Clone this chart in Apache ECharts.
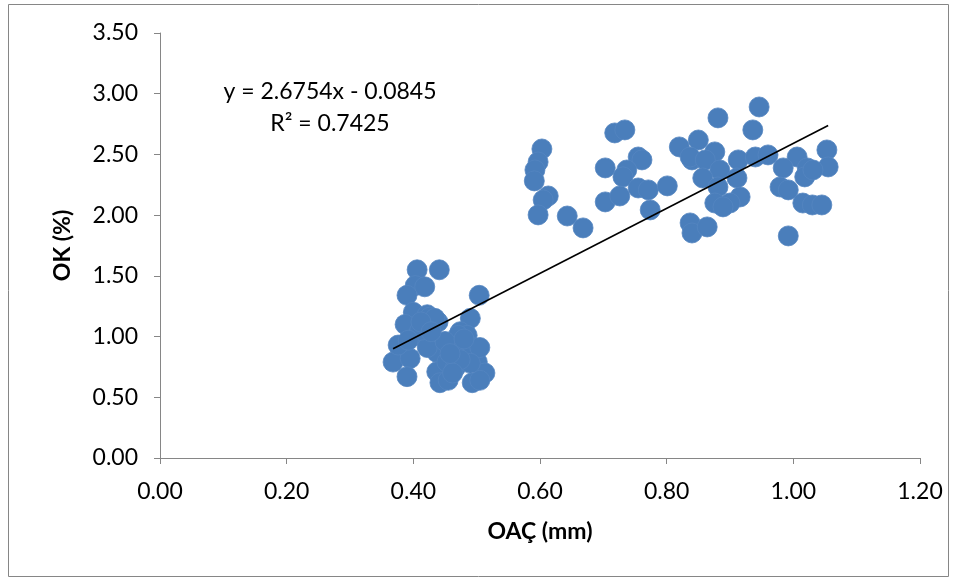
<!DOCTYPE html>
<html>
<head>
<meta charset="utf-8">
<title>OK vs OAÇ</title>
<script src="https://cdn.jsdelivr.net/npm/echarts@6/dist/echarts.min.js"></script>
<style>
  html, body { margin: 0; padding: 0; background: #ffffff; }
  #chart { width: 958px; height: 581px; }
</style>
</head>
<body>
<div id="chart"></div>
<script>
// OAÇ (mm) measurements
const oacValues = [
  0.406, 0.441, 0.403, 0.418, 0.390, 0.504, 0.400, 0.422, 0.439, 0.387,
  0.490, 0.474, 0.485, 0.406, 0.379, 0.368, 0.395, 0.390, 0.437, 0.437,
  0.442, 0.453, 0.474, 0.494, 0.501, 0.513, 0.493, 0.466, 0.422, 0.426,
  0.471, 0.505, 0.463, 0.455, 0.505, 0.490, 0.474, 0.410, 0.376, 0.434,
  0.450, 0.480, 0.412, 0.462, 0.392, 0.428, 0.458,
  0.603, 0.597, 0.592, 0.591, 0.613, 0.605, 0.597, 0.643, 0.668, 0.703,
  0.703, 0.718, 0.734, 0.820, 0.850, 0.755, 0.761, 0.840, 0.737, 0.731,
  0.755, 0.771, 0.801, 0.726, 0.774, 0.837, 0.840, 0.946, 0.881, 0.936,
  0.837, 0.876, 0.861, 0.913, 0.940, 0.960, 1.006, 0.984, 1.022, 1.018,
  0.884, 0.857, 0.911, 0.881, 0.979, 0.992, 0.916, 0.900, 0.876, 0.889,
  1.015, 1.030, 0.864, 0.992, 1.053, 1.055, 1.031, 1.045
];
// OK (%) measurements, same order
const okValues = [
  1.55, 1.55, 1.42, 1.41, 1.34, 1.34, 1.20, 1.18, 1.12, 1.10,
  1.15, 1.04, 1.01, 1.01, 0.91, 0.79, 0.82, 0.67, 0.87, 0.71,
  0.62, 0.79, 0.85, 0.91, 0.79, 0.70, 0.62, 0.74, 0.91, 1.16,
  1.01, 0.91, 0.91, 0.64, 0.64, 0.78, 0.81, 1.05, 0.93, 1.15,
  0.96, 0.98, 1.12, 0.70, 0.97, 1.04, 0.86,
  2.545, 2.438, 2.372, 2.282, 2.158, 2.125, 2.002, 1.993, 1.895, 2.389,
  2.109, 2.677, 2.702, 2.562, 2.619, 2.479, 2.455, 2.455, 2.372, 2.315,
  2.224, 2.208, 2.241, 2.158, 2.043, 1.936, 1.853, 2.891, 2.801, 2.702,
  2.479, 2.521, 2.455, 2.455, 2.479, 2.496, 2.479, 2.389, 2.389, 2.315,
  2.372, 2.306, 2.306, 2.232, 2.232, 2.208, 2.150, 2.100, 2.100, 2.068,
  2.100, 2.084, 1.903, 1.829, 2.537, 2.397, 2.372, 2.084
];

// Linear trendline coefficients and fit statistic
const trendSlope = 2.6754;
const trendIntercept = -0.0845;
const rSquared = 0.7425;

// Axis ranges and steps
const xAxisRange = [0, 1.2, 0.2];
const yAxisRange = [0, 3.5, 0.5];

const points = oacValues.map((x, i) => [x, okValues[i]]);
const xMin = Math.min(...oacValues);
const xMax = Math.max(...oacValues);
const trendLine = [xMin, xMax].map(x => [x, trendSlope * x + trendIntercept]);

const FONT = 'Lato, "Liberation Sans", sans-serif';
const AXIS_GRAY = '#868686';

const chart = echarts.init(document.getElementById('chart'), null, { renderer: 'canvas' });

chart.setOption({
  backgroundColor: '#ffffff',
  animation: false,
  grid: { left: 160, right: 38, top: 33, bottom: 123 },
  xAxis: {
    type: 'value',
    min: xAxisRange[0], max: xAxisRange[1], interval: xAxisRange[2],
    name: 'OAÇ (mm)',
    nameLocation: 'middle',
    nameGap: 62,
    nameTextStyle: { fontFamily: FONT, fontSize: 23, fontWeight: 'bold', color: '#000' },
    axisLine: { lineStyle: { color: AXIS_GRAY, width: 1 } },
    axisTick: { show: true, length: 6, lineStyle: { color: AXIS_GRAY } },
    axisLabel: { fontFamily: FONT, fontSize: 23, color: '#000', margin: 22,
      formatter: v => v.toFixed(2) },
    splitLine: { show: false }
  },
  yAxis: {
    type: 'value',
    min: yAxisRange[0], max: yAxisRange[1], interval: yAxisRange[2],
    name: 'OK (%)',
    nameLocation: 'middle',
    nameGap: 86,
    nameTextStyle: { fontFamily: FONT, fontSize: 23, fontWeight: 'bold', color: '#000' },
    axisLine: { show: true, lineStyle: { color: AXIS_GRAY, width: 1 } },
    axisTick: { show: true, length: 6, lineStyle: { color: AXIS_GRAY } },
    axisLabel: { fontFamily: FONT, fontSize: 23, color: '#000', margin: 22,
      formatter: v => v.toFixed(2) },
    splitLine: { show: false }
  },
  series: [
    {
      type: 'scatter',
      data: points,
      symbol: 'circle',
      symbolSize: 20,
      itemStyle: { color: '#4a7ebb', borderColor: '#5485c0', borderWidth: 0.8, opacity: 1 },
      z: 2
    },
    {
      type: 'line',
      data: trendLine,
      symbol: 'none',
      lineStyle: { color: '#000000', width: 1.6 },
      z: 3
    }
  ],
  graphic: [
    {
      type: 'rect',
      shape: { x: 8.5, y: 4.5, width: 940, height: 572 },
      style: { fill: 'none', stroke: '#868686', lineWidth: 1 },
      silent: true
    },
    {
      type: 'text',
      x: 330, y: 92,
      style: {
        text: 'y = ' + trendSlope.toFixed(4) + 'x - ' + Math.abs(trendIntercept).toFixed(4),
        font: '23px ' + FONT, fill: '#000', align: 'center', verticalAlign: 'middle'
      }
    },
    {
      type: 'text',
      x: 330, y: 124,
      style: {
        text: 'R² = ' + rSquared.toFixed(4),
        font: '23px ' + FONT, fill: '#000', align: 'center', verticalAlign: 'middle'
      }
    }
  ]
});
</script>
</body>
</html>
